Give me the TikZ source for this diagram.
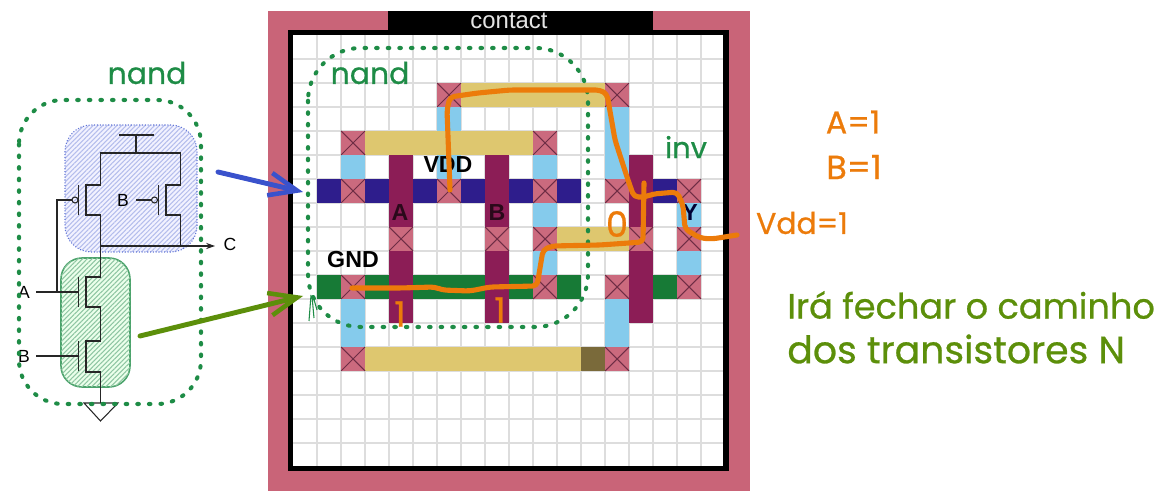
\documentclass[tikz,border=0pt]{standalone}
\usepackage{fontspec}
\setsansfont{Liberation Sans}
\newfontfamily\handfont[FakeBold=0.7]{Poppins}
\usetikzlibrary{arrows.meta,patterns.meta,positioning}
\definecolor{padpink}{HTML}{C96478}
\definecolor{viapink}{HTML}{CB6A7E}
\definecolor{viacross}{HTML}{6E2D45}
\definecolor{polypurple}{HTML}{8C1D56}
\definecolor{metalblue}{HTML}{2E1D8C}
\definecolor{metalgreen}{HTML}{177A36}
\definecolor{wireyellow}{HTML}{DEC76F}
\definecolor{wireolive}{HTML}{7A6A3A}
\definecolor{diffblue}{HTML}{85CBEC}
\definecolor{gridgray}{HTML}{DDDDDD}
\definecolor{dotgreen}{HTML}{1E8C46}
\definecolor{noteorange}{HTML}{EC7B0A}
\definecolor{noteolive}{HTML}{5C8F0A}
\definecolor{arrowblue}{HTML}{3A52CC}
\tikzset{
  gridline/.style = {gridgray, line width=0.6pt},
  wire/.style     = {line width=0.6pt, black!85},
  sublabel/.style = {font=\sffamily\fontsize{10}{12}\selectfont, inner sep=0pt},
  layerlabel/.style = {font=\sffamily\bfseries\fontsize{13.2}{15}\selectfont, inner sep=0pt},
  hand/.style     = {font=\handfont\fontsize{17}{20}\selectfont, inner sep=0pt},
  dotbox/.style   = {dotgreen, line width=2.3pt, line cap=round, dash pattern=on 0.9pt off 5.7pt},
  trace/.style    = {noteorange, line width=2.9pt, line cap=round, line join=round, rounded corners=2.5pt},
  pointer/.style  = {line width=2.8pt, line cap=round, -{Straight Barb[length=16pt,width=13pt,line width=2.6pt]}}
}
\newcommand{\cell}[3]{\fill[#3] ({293+24*#1},{35+24*#2}) rectangle +(24,24);}
\newcommand{\viacell}[2]{
  \fill[viapink] ({293+24*#1},{35+24*#2}) rectangle +(24,24);
  \draw[viacross, line width=0.6pt] ({293+24*#1},{35+24*#2}) -- +(24,24) +(24,0) -- +(0,24);
}
\begin{document}
\begin{tikzpicture}[x=0.02cm, y=-0.02cm, >=Stealth]
\useasboundingbox (0,0) rectangle (1165,502);

% chip frame
\fill[padpink] (268,11) rectangle (750,491);
\fill[black] (288,30) rectangle (729,471);
\fill[black] (388,11) rectangle (653,35);
\fill[white] (293,35) rectangle (723,466);
\node[font=\sffamily\fontsize{13.6}{15}\selectfont, text=white!90!black, inner sep=0pt] (contact) at (509,21) {contact};

% grid of the layout
\foreach \i in {1,...,17}
  \draw[gridline] ({293+24*\i},35) -- ({293+24*\i},466);
\foreach \j in {1,...,17}
  \draw[gridline] (293,{35+24*\j}) -- (723,{35+24*\j});

% wires
\foreach \i in {7,...,12} {\cell{\i}{2}{wireyellow}}
\foreach \i in {3,...,9} {\cell{\i}{4}{wireyellow}}
\foreach \i in {11,12,13} {\cell{\i}{8}{wireyellow}}
\foreach \i in {3,...,11} {\cell{\i}{13}{wireyellow}}
\cell{12}{13}{wireolive}
\foreach \i/\j in {6/3,6/5,2/5,10/5,13/3,13/4,13/5,10/7,16/7,10/9,16/9,2/11,2/12,13/11,13/12}
  {\cell{\i}{\j}{diffblue}}
\foreach \i in {1,3,4,5,7,8,9,11,15} {\cell{\i}{6}{metalblue}}
\foreach \i in {1,3,4,5,6,7,8,9,11,15} {\cell{\i}{10}{metalgreen}}
\foreach \i in {4,8,14}
  \foreach \j in {5,...,11} {\cell{\i}{\j}{polypurple}}

% contacts
\foreach \i/\j in {6/2,13/2,2/4,10/4,2/6,6/6,10/6,13/6,16/6,4/8,8/8,10/8,14/8,16/8,2/10,10/10,13/10,16/10,2/13,13/13}
  {\viacell{\i}{\j}}

\node[layerlabel] (vdd) at (448,165) {VDD};
\node[layerlabel] (gnd) at (353,260) {GND};
\node[layerlabel, text=black!70!polypurple] (gatea) at (400,213) {A};
\node[layerlabel, text=black!70!polypurple] (gateb) at (497,213) {B};
\node[layerlabel, text=black!80!blue] (outy) at (690,213) {Y};

% hatched regions behind the schematic
\fill[blue!5, rounded corners=15,
  postaction={pattern={Lines[angle=45,distance=1.9pt,line width=0.6pt]}, pattern color=arrowblue!38}]
  (65,125) rectangle (197,252);
\draw[arrowblue!80, line width=0.6pt, densely dotted, rounded corners=15] (65,125) rectangle (197,252);
\draw[dotgreen!80, line width=0.9pt, fill=green!8, rounded corners=12,
  postaction={pattern={Lines[angle=45,distance=1.9pt,line width=0.6pt]}, pattern color=dotgreen!50}]
  (61,258) rectangle (130,387);

% p side
\draw[wire] (119,135) -- (154,135) (136,135) -- (136,153);
\draw[wire] (100.5,246) -- (100.5,215) -- (86,215) -- (86,185) -- (100.5,185) -- (100.5,153)
  -- (180.5,153) -- (180.5,185) -- (166,185) -- (166,215) -- (180.5,215) -- (180.5,246);
\draw[wire] (78.5,185) -- (78.5,215) (158.5,185) -- (158.5,215);
\draw[wire] (75,200) circle (3);
\draw[wire] (154.5,200) circle (3);
\draw[wire] (72,200) -- (57,200) -- (57,292);
\draw[wire] (136,200) -- (151.5,200);
\node[sublabel] (pb) at (123,200) {B};

% n side
\draw[wire] (100.5,246) -- (100.5,277) -- (86,277) -- (86,307) -- (100.5,307) -- (100.5,341)
  -- (86,341) -- (86,372) -- (100.5,372) -- (100.5,403);
\draw[wire] (78.5,277) -- (78.5,307) (78.5,341) -- (78.5,371);
\node[sublabel] (na) at (24,292) {A};
\node[sublabel] (nb) at (24,356) {B};
\draw[wire] (na.east) ++(6,0) -- (78.5,292);
\draw[wire] (nb.east) ++(6,0) -- (78.5,356);
\draw[wire] (84,403) -- (118,403) -- (100.5,421) -- cycle;

% output
\node[sublabel] (outc) at (230,244) {C};
\coordinate (outj) at (100.5,246);
\draw[wire, ->, >={Stealth[length=5pt,width=3.5pt]}] (outj) -- (215,246);

% dotted outlines
\draw[dotbox, rounded corners=25] (19,100) rectangle (201,404);
\draw[dotbox, rounded corners=30] (308,48) rectangle (588,327);
\node[hand, text=dotgreen] (nandl) at (147,73) {nand};
\node[hand, text=dotgreen] (nandr) at (370,73) {nand};
\node[hand, text=dotgreen, font=\handfont\fontsize{16.5}{18}\selectfont] (inv) at (686,147) {inv};

% pointers to the layout
\coordinate (bluetail) at (218,172);
\coordinate (bluetip) at (303,192);
\coordinate (greentail) at (140,336);
\coordinate (greentip) at (303,296);
\draw[pointer, arrowblue] (bluetail) -- (bluetip);
\draw[pointer, noteolive] (greentail) -- (greentip);
\draw[dotgreen, line width=0.6pt] (311,295) -- (309,321) (312,296) -- (314,318) (313,296) -- (317,310);

% logic levels
\draw[trace] (352,288) -- (400,288) -- (435,287) -- (442,290) -- (470,291) -- (490,287) -- (537,286)
  -- (543,250) -- (552,246) -- (600,245) -- (643,242) -- (644,183);
\draw[trace] (450,190) -- (447,110) -- (450,97) -- (478,93) -- (510,90) -- (600,90) -- (607,94)
  -- (615,140) -- (628,180) -- (634,197) -- (645,197) -- (653,194) -- (677,192) -- (683,205)
  -- (685,229) -- (700,238) -- (712,239) -- (737,235);
\node[hand, text=noteorange, font=\handfont\fontsize{20}{22}\selectfont] (lvla) at (400,314) {1};
\node[hand, text=noteorange, font=\handfont\fontsize{20}{22}\selectfont] (lvlb) at (500,310) {1};
\node[hand, text=noteorange, font=\handfont\fontsize{20}{22}\selectfont] (lvlc) at (617,224) {0};

% notes on the right
\node[hand, text=noteorange, font=\handfont\fontsize{18}{20}\selectfont] (notea) at (853,122) {A=1};
\node[hand, text=noteorange, font=\handfont\fontsize{19}{20}\selectfont] (noteb) at (854,167) {B=1};
\node[hand, text=noteorange] (notev) at (802,223) {Vdd=1};
\node[hand, text=noteolive, anchor=west, font=\handfont\fontsize{20}{22}\selectfont] (notel1) at (787,305) {Irá fechar o caminho};
\node[hand, text=noteolive, anchor=west, font=\handfont\fontsize{21.5}{24}\selectfont] (notel2) at (787,349) {dos transistores N};
\end{tikzpicture}
\end{document}
